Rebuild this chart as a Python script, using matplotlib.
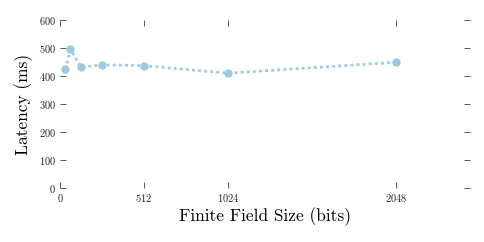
import matplotlib
matplotlib.use("Agg")
import matplotlib.pyplot as plt

plt.rcParams['font.family'] = 'serif'
plt.rcParams['font.serif'] = ['cmr10', 'DejaVu Serif']
plt.rcParams['mathtext.fontset'] = 'cm'
plt.rcParams['axes.formatter.use_mathtext'] = True

# данные
field_bits = [32, 64, 128, 256, 512, 1024, 2048]
latency_ms = [424, 495, 431, 440, 437, 410, 449]
x_ticks = [0, 512, 1024, 2048]
y_ticks = [0, 100, 200, 300, 400, 500, 600]

fig = plt.figure(figsize=(4.85, 2.42), dpi=100)
ax = fig.add_axes([60 / 485, 54 / 242, 410 / 485, 168 / 242])

ax.plot(field_bits, latency_ms, color='#9ecae1', linestyle=(0, (1, 1.2)),
        linewidth=2, marker='o', markersize=5)

ax.set_xlim(0, 2500)
ax.set_ylim(0, 600)
ax.set_xticks(x_ticks)
ax.set_yticks(y_ticks)
for s in ax.spines.values():
    s.set_visible(False)
ax.tick_params(direction='in', length=4, width=0.7, color='#555555',
               labelcolor='#222222', labelsize=7.5, top=True, right=True, pad=3)

ax.set_xlabel('Finite Field Size (bits)', fontsize=12.5, labelpad=2)
ax.set_ylabel('Latency (ms)', fontsize=12.5, labelpad=4)

fig.savefig('out.png', dpi=100)
